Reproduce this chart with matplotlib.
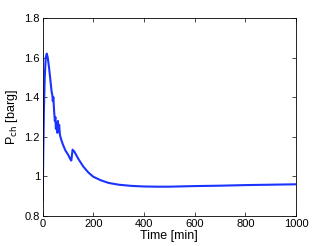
import numpy as np
import matplotlib.pyplot as plt

plt.rcParams['font.family'] = ['Liberation Sans', 'DejaVu Sans']

# Chamber pressure vs time
time_min = [0, 2, 5, 8, 12, 16, 20, 25, 30, 35, 38, 40, 42, 45, 48, 50, 52, 55,
            58, 60, 62, 65, 68, 72, 80, 90, 100, 110, 113, 118, 125, 140, 160,
            180, 200, 230, 260, 300, 350, 400, 450, 500, 600, 700, 800, 900, 1000]
p_ch = [0.88, 1.10, 1.35, 1.50, 1.60, 1.62, 1.60, 1.55, 1.49, 1.43, 1.41, 1.38,
        1.40, 1.33, 1.28, 1.30, 1.24, 1.27, 1.22, 1.28, 1.24, 1.26, 1.21, 1.19,
        1.16, 1.13, 1.11, 1.085, 1.08, 1.135, 1.125, 1.09, 1.05, 1.02, 0.998,
        0.98, 0.967, 0.958, 0.952, 0.949, 0.948, 0.948, 0.951, 0.953, 0.956,
        0.958, 0.96]

fig = plt.figure(figsize=(3.27, 2.46), dpi=100, facecolor='white')
ax = fig.add_axes([0.1306, 0.122, 0.7744, 0.805])

ax.plot(time_min, p_ch, color='#1a33ff', lw=1.5)

ax.set_xlim(0, 1000)
ax.set_ylim(0.8, 1.8)
ax.set_xticks(np.arange(0, 1001, 200))
ax.set_yticks([0.8, 1.0, 1.2, 1.4, 1.6, 1.8])
ax.set_yticklabels(['0.8', '1', '1.2', '1.4', '1.6', '1.8'])
ax.tick_params(direction='in', length=3, width=0.5, labelsize=8,
               top=True, right=True, pad=2)
for s in ax.spines.values():
    s.set_linewidth(0.6)

ax.set_xlabel('Time [min]', fontsize=9, labelpad=1)
ax.set_ylabel('P$_{\\rm ch}$ [barg]', fontsize=9, labelpad=3)

fig.savefig('out.png', dpi=100)
